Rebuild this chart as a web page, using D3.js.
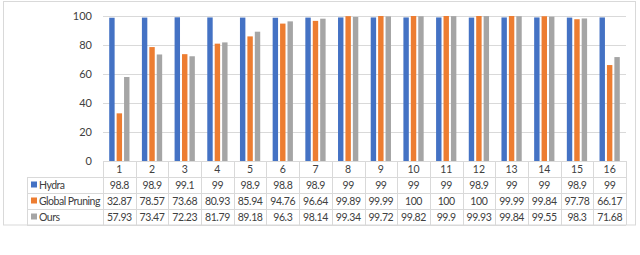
<!DOCTYPE html>
<html>
<head>
<meta charset="utf-8">
<script src="https://cdn.jsdelivr.net/npm/d3@7"></script>
<style>
  body { margin: 0; background: #fff; }
  text { font-family: Lato, "Open Sans", sans-serif; fill: #404040; }
</style>
</head>
<body>
<div id="chart"></div>
<script>
const categories = ["1", "2", "3", "4", "5", "6", "7", "8", "9", "10", "11", "12", "13", "14", "15", "16"];
const seriesNames = ["Hydra", "Global Pruning", "Ours"];
const hydra = [98.8, 98.9, 99.1, 99, 98.9, 98.8, 98.9, 99, 99, 99, 99, 98.9, 99, 99, 98.9, 99];
const globalPruning = [32.87, 78.57, 73.68, 80.93, 85.94, 94.76, 96.64, 99.89, 99.99, 100, 100, 100, 99.99, 99.84, 97.78, 66.17];
const ours = [57.93, 73.47, 72.23, 81.79, 89.18, 96.3, 98.14, 99.34, 99.72, 99.82, 99.9, 99.93, 99.84, 99.55, 98.3, 71.68];
const yTicks = [0, 20, 40, 60, 80, 100];
const colors = ["#4472C4", "#ED7D31", "#A5A5A5"];

const seriesValues = [hydra, globalPruning, ours];

const W = 640, H = 255;
const plot = { left: 103, right: 626, top: 16, bottom: 161 };
const legendLeft = 27;
const rowH = 16;
const gridColor = "#d9d9d9";

const svg = d3.select("#chart").append("svg")
  .attr("width", W)
  .attr("height", H);

// outer frame
svg.append("rect")
  .attr("x", 3.5).attr("y", 1.5)
  .attr("width", 632).attr("height", 223.5)
  .attr("fill", "none")
  .attr("stroke", "#d9d9d9");

const x = d3.scaleBand().domain(categories).range([plot.left, plot.right]);
const y = d3.scaleLinear().domain([0, 100]).range([plot.bottom, plot.top]);
const x1 = d3.scaleBand().domain(seriesNames)
  .range([x.bandwidth() * 0.19, x.bandwidth() * 0.81])
  .paddingInner(0.27);

// gridlines
svg.append("g")
  .attr("transform", `translate(${plot.left},0)`)
  .call(d3.axisLeft(y).tickValues(yTicks).tickSize(-(plot.right - plot.left)).tickFormat(""))
  .call(g => g.select(".domain").remove())
  .call(g => g.selectAll("line").attr("stroke", gridColor).attr("stroke-width", 1));

// y labels
svg.append("g")
  .attr("transform", `translate(${plot.left - 8},0)`)
  .call(d3.axisLeft(y).tickValues(yTicks).tickSize(0))
  .call(g => g.select(".domain").remove())
  .call(g => g.selectAll("text").style("font-size", "11px").attr("fill", "#404040"));

// bars
const groups = svg.append("g").selectAll("g")
  .data(categories)
  .join("g")
  .attr("transform", d => `translate(${x(d)},0)`);

groups.selectAll("rect")
  .data((d, i) => seriesNames.map((s, k) => ({ s: s, k: k, v: seriesValues[k][i] })))
  .join("rect")
  .attr("x", d => x1(d.s))
  .attr("y", d => y(d.v))
  .attr("width", x1.bandwidth())
  .attr("height", d => y(0) - y(d.v))
  .attr("fill", d => colors[d.k]);

// data table
const table = svg.append("g");
const tableTop = plot.bottom;
const rowsTop = tableTop + rowH;
const tableBottom = rowsTop + rowH * seriesNames.length;

// header row
table.selectAll(".hdr")
  .data(categories)
  .join("text")
  .attr("x", d => x(d) + x.bandwidth() / 2)
  .attr("y", tableTop + rowH / 2 + 4)
  .attr("text-anchor", "middle")
  .style("font-size", "10.5px")
  .text(d => d);

// value cells
seriesNames.forEach((s, k) => {
  const ry = rowsTop + k * rowH;
  table.selectAll(".v" + k)
    .data(seriesValues[k])
    .join("text")
    .attr("x", (d, i) => x(categories[i]) + x.bandwidth() / 2)
    .attr("y", ry + rowH / 2 + 4)
    .attr("text-anchor", "middle")
    .style("font-size", "10.5px")
    .style("letter-spacing", "-0.4px")
    .text(d => String(d));

  table.append("rect")
    .attr("x", legendLeft + 4).attr("y", ry + rowH / 2 - 3.5)
    .attr("width", 6).attr("height", 6)
    .attr("fill", colors[k]);
  table.append("text")
    .attr("x", legendLeft + 12)
    .attr("y", ry + rowH / 2 + 4)
    .style("font-size", "10.5px")
    .style("letter-spacing", "-0.5px")
    .text(s);
});

// table grid lines
const lines = table.append("g")
  .attr("stroke", gridColor)
  .attr("stroke-width", 1);

[tableTop, rowsTop].forEach(yy => {
  lines.append("line")
    .attr("x1", yy === tableTop ? plot.left : legendLeft).attr("x2", plot.right)
    .attr("y1", yy + 0.5).attr("y2", yy + 0.5);
});
d3.range(1, seriesNames.length + 1).forEach(k => {
  const yy = rowsTop + k * rowH;
  lines.append("line")
    .attr("x1", legendLeft).attr("x2", plot.right)
    .attr("y1", yy + 0.5).attr("y2", yy + 0.5);
});
categories.forEach(c => {
  lines.append("line")
    .attr("x1", Math.round(x(c)) + 0.5).attr("x2", Math.round(x(c)) + 0.5)
    .attr("y1", tableTop).attr("y2", tableBottom);
});
lines.append("line")
  .attr("x1", plot.right + 0.5).attr("x2", plot.right + 0.5)
  .attr("y1", tableTop).attr("y2", tableBottom);
lines.append("line")
  .attr("x1", legendLeft + 0.5).attr("x2", legendLeft + 0.5)
  .attr("y1", rowsTop).attr("y2", tableBottom);
</script>
</body>
</html>
